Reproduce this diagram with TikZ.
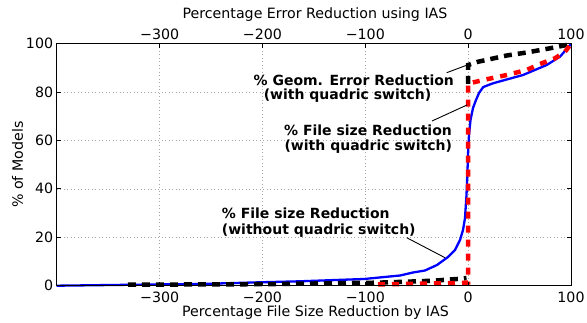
\documentclass[tikz,border=0pt]{standalone}
\usepackage{fontspec}
\setmainfont{DejaVu Sans}
\begin{document}
\begin{tikzpicture}[x=1pt,y=-1pt,
  lbl/.style={inner sep=0pt, font=\fontsize{14.2}{16}\selectfont},
  ann/.style={inner sep=0pt, font=\fontsize{14}{16}\selectfont\bfseries},
  gridline/.style={black!35, line width=0.7pt, dash pattern=on 1pt off 2.5pt},
  tickmark/.style={line width=0.8pt},
  frame/.style={line width=1pt},
  geom/.style={black, line width=4.5pt, dash pattern=on 8pt off 6pt},
  fsq/.style={red, line width=4.5pt, dash pattern=on 7pt off 7pt},
  fsn/.style={blue, line width=2.3pt, line join=round},
  leader/.style={line width=0.9pt}]
\useasboundingbox (0,0) rectangle (587,323);
% grid
\foreach \gx in {159.6,262.4,365.3,468.1}
  \draw[gridline] (\gx,43.7) -- (\gx,285.7);
\foreach \gy in {237.3,188.9,140.5,92.1}
  \draw[gridline] (56.7,\gy) -- (571,\gy);
% blue: file size without quadric switch
\draw[fsn] (56.7,285.7) -- (128,284.8) -- (200,284) -- (260,282.3) -- (300,281.3) -- (364,279) -- (400,275.5) -- (413,272.5) -- (425,270.5) -- (437,265) -- (448,257) -- (455,250) -- (460,240) -- (463,230) -- (465,218) -- (466.5,195) -- (467.5,170) -- (468.2,150) -- (469,135) -- (470.5,120) -- (473,108) -- (476,100) -- (479,93) -- (483.3,87) -- (493,83.3) -- (506.7,79.5) -- (523,75) -- (546.7,65) -- (560,56.7) -- (571,44);
% black: geom error with quadric switch
\draw[geom] (128,284.7) -- (260,284.2) -- (376.7,282.7) -- (406.7,281.7) -- (433,280.7) -- (460,278.8) -- (466.5,278);
\draw[geom] (468.1,84) -- (468.1,65) -- (478.3,61.7) -- (506.7,55.5) -- (526.7,52.5) -- (550,48.3) -- (566.7,45) -- (571,44);
% red: file size with quadric switch
\draw[fsq] (378,284.5) -- (406,284) -- (433,283.5) -- (460,283) -- (468.1,282.5) -- (468.1,83.5) -- (475,82) -- (483.3,80) -- (506.7,75) -- (526.7,70) -- (540,64) -- (555,58.3) -- (565,51.7) -- (571,44);
% frame
\draw[frame] (56.7,43.7) rectangle (571,285.7);
% ticks
\foreach \tx in {159.6,262.4,365.3,468.1} {
  \draw[tickmark] (\tx,285.7) -- (\tx,281.7);
  \draw[tickmark] (\tx,43.7) -- (\tx,47.7);
}
\foreach \ty in {237.3,188.9,140.5,92.1} {
  \draw[tickmark] (56.7,\ty) -- (60.7,\ty);
  \draw[tickmark] (571,\ty) -- (567,\ty);
}
% tick labels bottom and top
\foreach \tx/\tl/\nm in {159.6/{\char"2212 300}/a,262.4/{\char"2212 200}/b,365.3/{\char"2212 100}/c,468.1/0/d,571/100/e} {
  \node[lbl, anchor=base] (bt\nm) at (\tx,302.5) {\tl};
  \node[lbl, anchor=base] (tt\nm) at (\tx,40) {\tl};
}
% tick labels left
\foreach \ty/\tl in {285.7/0,237.3/20,188.9/40,140.5/60,92.1/80,43.7/100}
  \node[lbl, anchor=base east] (lt\tl) at (53.3,\ty+5) {\tl};
% axis labels
\node[lbl, anchor=base] (toplabel) at (315,19) {Percentage Error Reduction using IAS};
\node[lbl, anchor=base] (botlabel) at (315.5,316.5) {Percentage File Size Reduction by IAS};
\node[lbl, anchor=base, rotate=90] (ylabel) at (23,164.7) {\% of Models};
% annotations
\node[ann, anchor=base] (g1) at (353.8,85.7) {\% Geom. Error Reduction};
\node[ann, anchor=base] (g2) at (347.5,100) {(with quadric switch)};
\node[ann, anchor=base] (f1) at (368,135.7) {\% File size Reduction};
\node[ann, anchor=base] (f2) at (368.3,151) {(with quadric switch)};
\node[ann, anchor=base west] (n1) at (221.7,218.3) {\% File size Reduction};
\node[ann, anchor=base west] (n2) at (221.7,234.3) {(without quadric switch)};
% leaders
\coordinate (g1s) at (446.7,72.7);
\coordinate (g1e) at (467.3,65);
\coordinate (f1s) at (432,121);
\coordinate (f1e) at (467,105);
\coordinate (n2s) at (406.7,237.7);
\coordinate (n2e) at (445,257.7);
\draw[leader] (g1s) -- (g1e);
\draw[leader] (f1s) -- (f1e);
\draw[leader] (n2s) -- (n2e);
\end{tikzpicture}
\end{document}
